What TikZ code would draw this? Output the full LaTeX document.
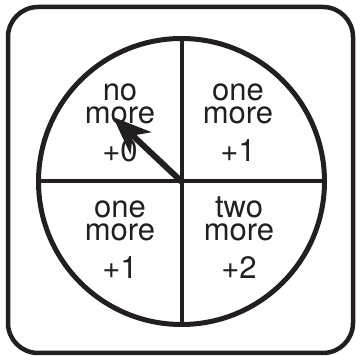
\documentclass[tikz,border=0pt]{standalone}
\usepackage{fontspec}
\setmainfont{TeX Gyre Heros}
\usetikzlibrary{arrows.meta}
\definecolor{ink}{HTML}{231F20}

\begin{document}
\begin{tikzpicture}[x=1pt, y=1pt,
  frame/.style={draw=ink, line width=4.5pt, rounded corners=30pt},
  rim/.style={draw=ink, line width=5pt},
  divider/.style={draw=ink, line width=4pt},
  pointer/.style={draw=ink, line width=6pt, -{Stealth[length=38pt 0, width=30pt 0, inset=11pt 0]}},
  word/.style={font=\fontsize{31}{23}\selectfont, text=ink, align=center, anchor=base, inner sep=0},
  val/.style={font=\fontsize{31}{23}\selectfont, text=ink, anchor=base, inner sep=0}]
\newcommand{\spinlabel}[5]{% name, x, y of "more" baseline, words, value
  \node[word] (#1) at (#2, #3) {#4};
  \node[val] (#1val) at (#2, #3-38) {#5};
}
\useasboundingbox (0,0) rectangle (357,356);
\draw[frame] (8,3) rectangle (353,349);
\coordinate (hub) at (181.5,174.5);
\draw[rim] (hub) circle[radius=143];
\draw[divider] ([yshift=143]hub) -- ([yshift=-143]hub);
\draw[divider] ([xshift=-143]hub) -- ([xshift=143]hub);
\spinlabel{nw}{120}{232}{no\\more}{+0}
\spinlabel{ne}{238}{232}{one\\more}{+1}
\spinlabel{sw}{120}{115}{one\\more}{+1}
\spinlabel{se}{239}{115}{two\\more}{+2}
\coordinate (tip) at (113,239);
\draw[pointer] (hub) -- (tip);
\fill[ink] (hub) circle[radius=3];
\end{tikzpicture}
\end{document}
